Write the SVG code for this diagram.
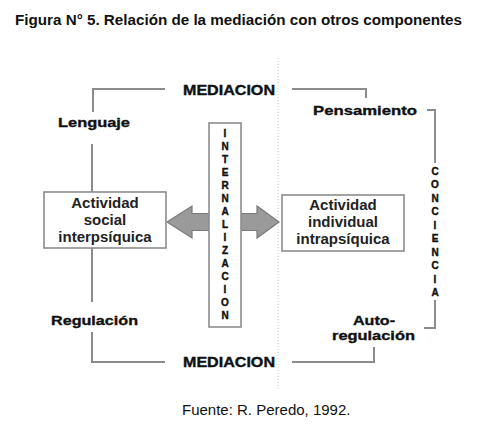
<svg xmlns="http://www.w3.org/2000/svg" width="504" height="430" viewBox="0 0 504 430">
<style>
text{font-family:"Liberation Sans",Arial,sans-serif;fill:#111}
.title{font-size:14px;font-weight:bold}
.lbl{font-size:13px;font-weight:bold;stroke:#111;stroke-width:0.35}
.med{font-size:15px;font-weight:bold;stroke:#111;stroke-width:0.4}
.box{font-size:15px;font-weight:bold;text-anchor:middle;fill:#222}
.vert{font-size:10px;font-weight:bold;text-anchor:middle;stroke:#111;stroke-width:0.4}
.src{font-size:15px}
.ln{fill:none;stroke:#8c8c8c;stroke-width:2}
.rect{fill:#fff;stroke:#8c8c8c;stroke-width:1.6}
</style>
<rect width="504" height="430" fill="#fff"/>
<text class="title" x="15" y="25" textLength="447" lengthAdjust="spacingAndGlyphs">Figura N° 5. Relación de la mediación con otros componentes</text>
<line x1="278" y1="58" x2="278" y2="390" stroke="#c8c8d8" stroke-width="1" stroke-dasharray="1 2"/>
<g id="connectors">
<polyline class="ln" points="165,89 93,89 93,112"/>
<line class="ln" x1="92" y1="144" x2="92" y2="192"/>
<line class="ln" x1="92" y1="248" x2="92" y2="302"/>
<polyline class="ln" points="92,332 92,362 165,362"/>
<polyline class="ln" points="292,89 366,89 366,98"/>
<polyline class="ln" points="427,110 435,110 435,163"/>
<polyline class="ln" points="435,300 435,328 424,328"/>
<polyline class="ln" points="374,347 374,362 292,362"/>
</g>
<g id="arrow">
<polygon points="167,222 192,206 192,213.5 257,213.5 257,206 279,222 257,238 257,230.5 192,230.5 192,238" fill="#9a9a9a" stroke="#7a7a7a" stroke-width="1.2"/>
</g>
<g id="mediacion-top"><text class="med" x="183" y="95" textLength="92" lengthAdjust="spacingAndGlyphs">MEDIACION</text></g>
<g id="mediacion-bottom"><text class="med" x="183" y="367" textLength="92" lengthAdjust="spacingAndGlyphs">MEDIACION</text></g>
<g id="lenguaje"><text class="lbl" x="58" y="127" textLength="72" lengthAdjust="spacingAndGlyphs">Lenguaje</text></g>
<g id="regulacion"><text class="lbl" x="51" y="325" textLength="87" lengthAdjust="spacingAndGlyphs">Regulación</text></g>
<g id="pensamiento"><text class="lbl" x="313" y="115" textLength="104" lengthAdjust="spacingAndGlyphs">Pensamiento</text></g>
<g id="autoregulacion">
<text class="lbl" x="353" y="325" textLength="42" lengthAdjust="spacingAndGlyphs">Auto-</text>
<text class="lbl" x="332" y="340" textLength="83" lengthAdjust="spacingAndGlyphs">regulación</text>
</g>
<g id="actividad-social">
<rect class="rect" x="44" y="192" width="122" height="56"/>
<text class="box" x="105" y="208">Actividad</text>
<text class="box" x="105" y="225">social</text>
<text class="box" x="105" y="242">interpsíquica</text>
</g>
<g id="actividad-individual">
<rect class="rect" x="282" y="195" width="122" height="56"/>
<text class="box" x="343" y="210">Actividad</text>
<text class="box" x="343" y="227">individual</text>
<text class="box" x="343" y="244">intrapsíquica</text>
</g>
<g id="internalizacion">
<rect class="rect" x="209" y="123" width="32" height="204"/>
<text class="vert" x="225" y="136.5">I</text>
<text class="vert" x="225" y="149.5">N</text>
<text class="vert" x="225" y="162.5">T</text>
<text class="vert" x="225" y="175.5">E</text>
<text class="vert" x="225" y="188.5">R</text>
<text class="vert" x="225" y="201.5">N</text>
<text class="vert" x="225" y="214.5">A</text>
<text class="vert" x="225" y="227.5">L</text>
<text class="vert" x="225" y="240.5">I</text>
<text class="vert" x="225" y="253.5">Z</text>
<text class="vert" x="225" y="266.5">A</text>
<text class="vert" x="225" y="279.5">C</text>
<text class="vert" x="225" y="292.5">I</text>
<text class="vert" x="225" y="305.5">O</text>
<text class="vert" x="225" y="318.5">N</text>
</g>
<g id="conciencia">
<text class="vert" x="435" y="174.5">C</text>
<text class="vert" x="435" y="188">O</text>
<text class="vert" x="435" y="201.5">N</text>
<text class="vert" x="435" y="215">C</text>
<text class="vert" x="435" y="228.5">I</text>
<text class="vert" x="435" y="242">E</text>
<text class="vert" x="435" y="255.5">N</text>
<text class="vert" x="435" y="269">C</text>
<text class="vert" x="435" y="282.5">I</text>
<text class="vert" x="435" y="296">A</text>
</g>
<text class="src" x="182" y="415">Fuente: R. Peredo, 1992.</text>
</svg>
